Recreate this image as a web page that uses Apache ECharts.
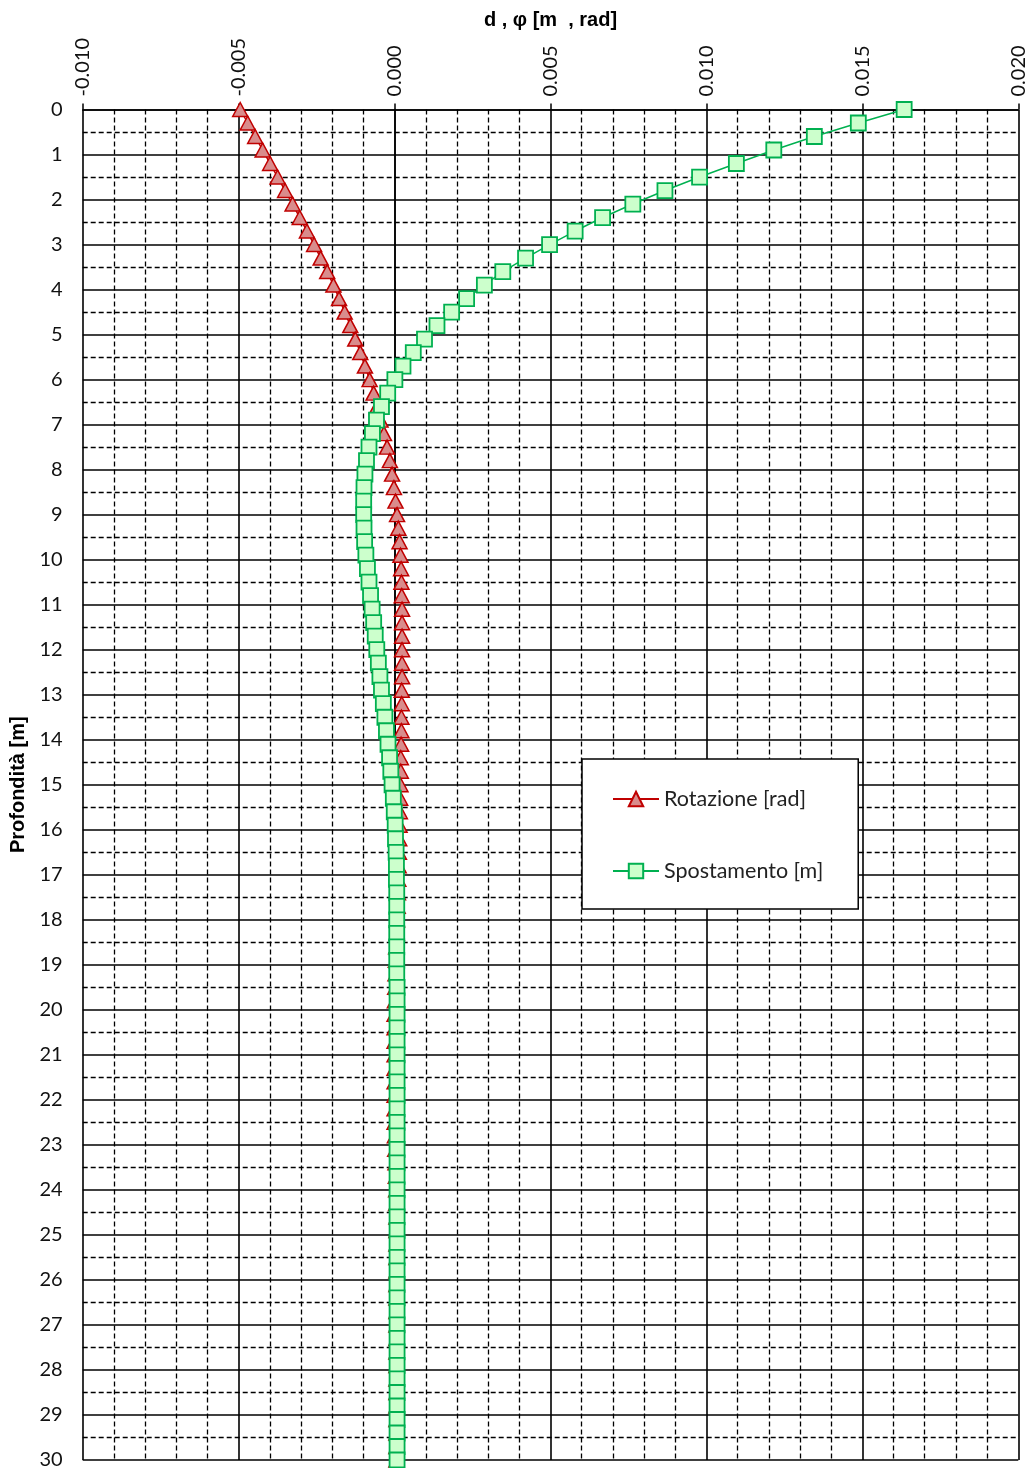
<!DOCTYPE html>
<html>
<head>
<meta charset="utf-8">
<script src="https://cdn.jsdelivr.net/npm/echarts@6/dist/echarts.min.js"></script>
<style>
html,body{margin:0;padding:0;background:#fff;}
#chart{width:1032px;height:1468px;}
</style>
</head>
<body>
<div id="chart"></div>
<script>
// Depth [m]
const depths = [
 0.0,0.3,0.6,0.9,1.2,1.5,1.8,2.1,2.4,2.7,
 3.0,3.3,3.6,3.9,4.2,4.5,4.8,5.1,5.4,5.7,
 6.0,6.3,6.6,6.9,7.2,7.5,7.8,8.1,8.4,8.7,
 9.0,9.3,9.6,9.9,10.2,10.5,10.8,11.1,11.4,11.7,
 12.0,12.3,12.6,12.9,13.2,13.5,13.8,14.1,14.4,14.7,
 15.0,15.3,15.6,15.9,16.2,16.5,16.8,17.1,17.4,17.7,
 18.0,18.3,18.6,18.9,19.2,19.5,19.8,20.1,20.4,20.7,
 21.0,21.3,21.6,21.9,22.2,22.5,22.8,23.1,23.4,23.7,
 24.0,24.3,24.6,24.9,25.2,25.5,25.8,26.1,26.4,26.7,
 27.0,27.3,27.6,27.9,28.2,28.5,28.8,29.1,29.4,29.7,
 30.0
];
// Rotazione [rad]
const rotazione = [
 -0.00495,-0.00471,-0.00447,-0.00423,-0.00399,-0.00375,-0.00351,-0.00327,-0.00304,-0.00281,
 -0.00258,-0.00237,-0.00216,-0.00196,-0.00178,-0.00160,-0.00142,-0.00126,-0.00110,-0.00095,
 -0.00080,-0.00067,-0.00056,-0.00045,-0.00034,-0.00024,-0.00015,-0.00008,-0.00002,0.00003,
 0.00008,0.00012,0.00016,0.00019,0.00021,0.00022,0.00023,0.00024,0.00024,0.00024,
 0.00024,0.00024,0.00024,0.00023,0.00023,0.00022,0.00022,0.00021,0.00020,0.00020,
 0.00019,0.00018,0.00017,0.00016,0.00015,0.00014,0.00013,0.00012,0.00011,0.00010,
 0.00008,0.00007,0.00005,0.00004,0.00003,0.00002,0.00001,0.00000,0.00000,0.00000,
 0.00000,0.00000,0.00000,0.00000,0.00000,0.00000,0.00001,0.00002,0.00003,0.00004,
 0.00005,0.00005,0.00006,0.00006,0.00006,0.00006,0.00006,0.00006,0.00006,0.00006,
 0.00006,0.00006,0.00006,0.00006,0.00006,0.00006,0.00006,0.00006,0.00006,0.00006,
 0.00006
];
// Spostamento [m]
const spostamento = [
 0.01634,0.01487,0.01346,0.01216,0.01096,0.00978,0.00867,0.00764,0.00667,0.00579,
 0.00497,0.00420,0.00347,0.00288,0.00231,0.00183,0.00136,0.00096,0.00060,0.00027,
 0.00001,-0.00022,-0.00042,-0.00058,-0.00071,-0.00082,-0.00090,-0.00095,-0.00098,-0.00099,
 -0.00099,-0.00098,-0.00096,-0.00092,-0.00087,-0.00082,-0.00077,-0.00072,-0.00067,-0.00062,
 -0.00057,-0.00052,-0.00047,-0.00042,-0.00036,-0.00031,-0.00026,-0.00021,-0.00016,-0.00012,
 -0.00008,-0.00004,-0.00001,0.00002,0.00003,0.00005,0.00006,0.00006,0.00007,0.00007,
 0.00007,0.00007,0.00007,0.00007,0.00007,0.00008,0.00008,0.00008,0.00008,0.00008,
 0.00008,0.00008,0.00008,0.00008,0.00008,0.00008,0.00008,0.00008,0.00008,0.00008,
 0.00008,0.00008,0.00008,0.00008,0.00008,0.00008,0.00008,0.00008,0.00008,0.00008,
 0.00008,0.00008,0.00008,0.00008,0.00008,0.00008,0.00008,0.00008,0.00008,0.00008,
 0.00008
];
const xTitle = 'd , \u03C6 [m  , rad]';
const yTitle = 'Profondit\u00E0 [m]';
const seriesNames = ['Rotazione [rad]', 'Spostamento [m]'];

const chart = echarts.init(document.getElementById('chart'), null, {renderer:'canvas'});
const pair = (xs) => xs.map((v, i) => [v, depths[i]]);

const option = {
  animation: false,
  backgroundColor: '#fff',
  grid: {left: 82.7, right: 13.7, top: 109.5, bottom: 8, containLabel: false, outerBoundsMode: 'none'},
  xAxis: {
    type: 'value', position: 'top',
    min: -0.01, max: 0.02, interval: 0.005,
    name: xTitle, nameLocation: 'middle', nameGap: 79,
    nameTextStyle: {fontFamily: 'Liberation Sans', fontWeight: 'bold', fontSize: 20, color: '#000'},
    axisLine: {show: true, lineStyle: {color: '#000', width: 1.5}},
    axisTick: {show: true, length: 6, lineStyle: {color: '#000', width: 1.5}},
    axisLabel: {rotate: 90, margin: 13, fontFamily: 'Lato', fontSize: 20, color: '#111',
      formatter: v => Number(v).toFixed(3)},
    splitLine: {show: true, lineStyle: {color: '#000', width: 1.6}},
    minorTick: {show: false, splitNumber: 5},
    minorSplitLine: {show: true, lineStyle: {color: '#000', width: 1.3, type: [5, 3]}}
  },
  yAxis: {
    type: 'value', inverse: true,
    min: 0, max: 30, interval: 1,
    name: yTitle, nameLocation: 'middle', nameGap: 52,
    nameTextStyle: {fontFamily: 'Liberation Sans', fontWeight: 'bold', fontSize: 20, color: '#000'},
    axisLine: {show: true, lineStyle: {color: '#000', width: 1.5}},
    axisTick: {show: false},
    axisLabel: {margin: 20, fontFamily: 'Lato', fontSize: 20, color: '#111'},
    splitLine: {show: true, lineStyle: {color: '#000', width: 1.6}},
    minorTick: {show: false, splitNumber: 2},
    minorSplitLine: {show: true, lineStyle: {color: '#000', width: 1.3, type: [5, 3]}}
  },
  legend: {
    orient: 'vertical', left: 582, top: 759,
    backgroundColor: '#fff', borderColor: '#000', borderWidth: 1.5, borderRadius: 0,
    padding: [29, 35, 27, 30],
    itemGap: 50, itemWidth: 46, itemHeight: 18,
    textStyle: {fontFamily: 'Lato', fontSize: 21.5, color: '#222'},
    data: seriesNames
  },
  series: [
    {
      name: seriesNames[0], type: 'line', data: pair(rotazione),
      symbol: 'triangle', symbolSize: [15, 14], showSymbol: true,
      lineStyle: {color: '#C00000', width: 1.5},
      itemStyle: {color: '#D98C8C', borderColor: '#C00000', borderWidth: 1.5}
    },
    {
      name: seriesNames[1], type: 'line', data: pair(spostamento),
      symbol: 'rect', symbolSize: 15, showSymbol: true,
      lineStyle: {color: '#00B050', width: 1.5},
      itemStyle: {color: '#CCFFCC', borderColor: '#00B050', borderWidth: 1.8}
    }
  ]
};
chart.setOption(option);
</script>
</body>
</html>
